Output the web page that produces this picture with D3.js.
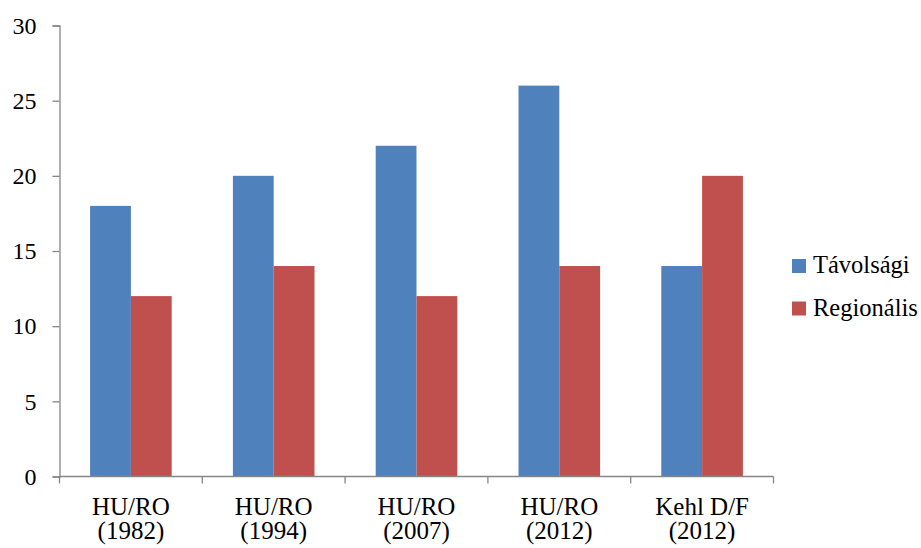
<!DOCTYPE html>
<html>
<head>
<meta charset="utf-8">
<script src="https://cdn.jsdelivr.net/npm/d3@7"></script>
<style>
body { margin: 0; background: #fff; }
svg text { font-family: "Liberation Serif", "Times New Roman", serif; fill: #000; }
</style>
</head>
<body>
<svg id="chart" width="921" height="548"></svg>
<script>
const categories = [["HU/RO", "(1982)"], ["HU/RO", "(1994)"], ["HU/RO", "(2007)"], ["HU/RO", "(2012)"], ["Kehl D/F", "(2012)"]];
const seriesNames = ["Távolsági", "Regionális"];
const tavolsagi = [18, 20, 22, 26, 14];
const regionalis = [12, 14, 12, 14, 20];
const yTicks = [0, 5, 10, 15, 20, 25, 30];
const colors = ["#4F81BD", "#C0504D"];

const svg = d3.select("#chart");
const mLeft = 59.5, mRight = 773.5, mTop = 25.5, mBottom = 476.5;

const x = d3.scaleBand().domain(d3.range(categories.length)).range([mLeft, mRight]).paddingInner(0).paddingOuter(0);
const y = d3.scaleLinear().domain([0, 30]).range([mBottom, mTop]);
const bw = x.bandwidth() / 3.5;
const inner = d3.scaleBand().domain([0, 1]).range([0.75 * bw, 2.75 * bw]);

const series = [tavolsagi, regionalis];
series.forEach((vals, si) => {
  svg.append("g").selectAll("rect").data(vals).join("rect")
    .attr("x", (d, i) => x(i) + inner(si))
    .attr("width", inner.bandwidth())
    .attr("y", d => y(d))
    .attr("height", d => y(0) - y(d))
    .attr("fill", colors[si]);
});

// y axis
const yAxis = svg.append("g").attr("transform", `translate(${mLeft},0)`)
  .call(d3.axisLeft(y).tickValues(yTicks).tickSize(7).tickPadding(16).tickFormat(d3.format("d")));
yAxis.attr("font-family", null).attr("font-size", null);
yAxis.select(".domain").attr("stroke", "#868686").attr("stroke-width", 1.3);
yAxis.selectAll(".tick line").attr("stroke", "#868686").attr("stroke-width", 1.3);
yAxis.selectAll(".tick text").attr("font-size", 24).attr("fill", "#000");

// x axis
const xg = svg.append("g").attr("transform", `translate(0,${mBottom})`);
xg.append("line").attr("x1", mLeft).attr("x2", mRight).attr("y1", 0).attr("y2", 0).attr("stroke", "#868686").attr("stroke-width", 1.3);
const edges = d3.range(categories.length + 1).map(i => i < categories.length ? x(i) : x(categories.length - 1) + x.bandwidth());
xg.selectAll(".xt").data(edges).join("line").attr("class", "xt")
  .attr("x1", d => d).attr("x2", d => d).attr("y1", 0).attr("y2", 7)
  .attr("stroke", "#868686").attr("stroke-width", 1.3);
const lab = xg.selectAll(".xl").data(categories).join("text").attr("class", "xl")
  .attr("text-anchor", "middle").attr("font-size", 25)
  .attr("transform", (d, i) => `translate(${x(i) + x.bandwidth() / 2},0)`);
lab.append("tspan").attr("x", 0).attr("y", 38.5).text(d => d[0]);
lab.append("tspan").attr("x", 0).attr("y", 62).text(d => d[1]);

// legend
const leg = svg.append("g").attr("transform", "translate(792,259)");
seriesNames.forEach((n, i) => {
  const g = leg.append("g").attr("transform", `translate(0,${i * 42.5})`);
  g.append("rect").attr("width", 14).attr("height", 14).attr("fill", colors[i]);
  g.append("text").attr("x", 21).attr("y", 14.3).attr("font-size", 24.5).text(n);
});
</script>
</body>
</html>
